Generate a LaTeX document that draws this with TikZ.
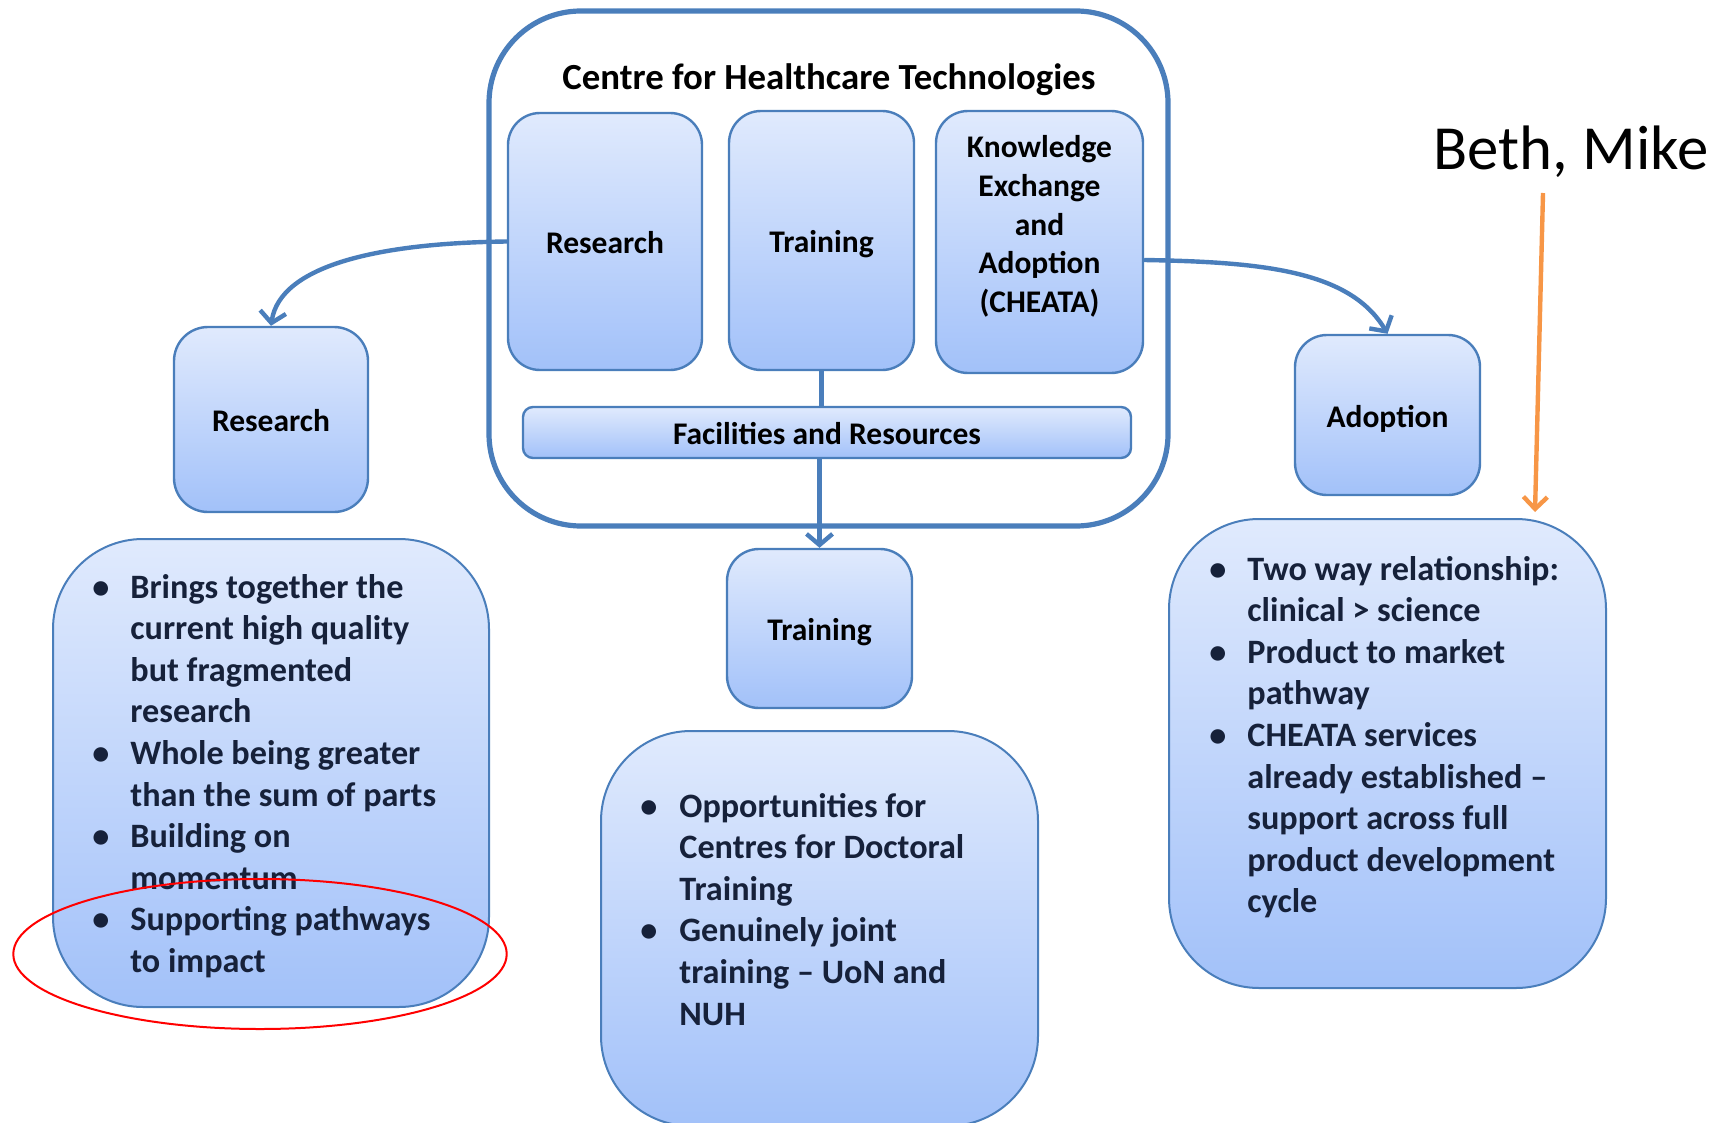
\documentclass[tikz,border=0pt]{standalone}
\usepackage{fontspec}
\setmainfont{Carlito}
\usetikzlibrary{arrows.meta,shapes.geometric,calc}
\definecolor{boxtop}{RGB}{224,234,253}
\definecolor{boxbot}{RGB}{162,193,249}
\definecolor{boxline}{RGB}{74,126,187}
\definecolor{navy}{RGB}{22,33,58}
\definecolor{orangeln}{RGB}{247,150,70}
\begin{document}
\begin{tikzpicture}[x=0.5pt,y=-0.5pt,
  bx/.style={draw=boxline, line width=1.2pt, top color=boxtop, bottom color=boxbot, inner sep=0pt,
    font=\fontsize{15.75}{19.3}\selectfont\bfseries, text height=12pt, text depth=0pt, align=center},
  listbox/.style={draw=boxline, line width=1pt, top color=boxtop, bottom color=boxbot, inner sep=0pt, rounded corners=45pt},
  listtext/.style={inner sep=0pt, anchor=base west, text=navy, font=\fontsize{17.1}{20.8}\selectfont\bfseries},
  conn/.style={draw=boxline, line width=2.2pt, -{Straight Barb[length=5.5pt,width=13pt]}},
  plainln/.style={draw=boxline, line width=2.2pt},
]
\useasboundingbox (0,0) rectangle (1717,1123);

% centre
\node[draw=boxline, line width=2.6pt, rounded corners=46pt, minimum width=339.5pt, minimum height=257.5pt, inner sep=0pt] (ctr) at (828.5,268.5) {};
\node[anchor=base, inner sep=0pt, font=\fontsize{18.4}{22}\selectfont\bfseries] (title) at (829,90) {Centre for Healthcare Technologies};
\node[bx, rounded corners=16pt, minimum width=97pt, minimum height=128.5pt] (r1) at (605,241.5) {Research};
\node[bx, rounded corners=16pt, minimum width=92.5pt, minimum height=129.5pt] (t1) at (821.5,240.5) {Training};
\node[bx, rounded corners=16pt, minimum width=103.5pt, minimum height=131pt, text height=0pt, text depth=84pt] (k1) at (1039.5,242)
  {\begin{tabular}[t]{@{}c@{}}Knowledge\\Exchange\\and\\Adoption\\(CHEATA)\end{tabular}};
\node[bx, rounded corners=5pt, minimum width=304pt, minimum height=25.5pt] (fac) at (827,432.5) {Facilities and Resources};

% outer boxes
\node[bx, rounded corners=17pt, minimum width=97pt, minimum height=92.5pt] (r2) at (271,419.5) {Research};
\node[bx, rounded corners=16pt, minimum width=92.5pt, minimum height=79.5pt] (t2) at (819.5,628.5) {Training};
\node[bx, rounded corners=16pt, minimum width=92.5pt, minimum height=80pt] (a2) at (1387.5,415) {Adoption};

% list boxes
\node[listbox, minimum width=218pt, minimum height=234pt] (rl) at (271,773) {};
\node[listbox, minimum width=218.5pt, minimum height=197.5pt] (tl) at (819.5,928.5) {};
\node[listbox, minimum width=218.5pt, minimum height=234.5pt] (al) at (1387.5,753.5) {};

\node[listtext] (rlt) at (92,598) {\begin{tabular}[t]{@{}p{19pt}@{}l@{}}
\textbullet & Brings together the\\
 & current high quality\\
 & but fragmented\\
 & research\\
\textbullet & Whole being greater\\
 & than the sum of parts\\
\textbullet & Building on\\
 & momentum\\
\textbullet & Supporting pathways\\
 & to impact
\end{tabular}};

\node[listtext] (tlt) at (640,817) {\begin{tabular}[t]{@{}p{19.5pt}@{}l@{}}
\textbullet & Opportunities for\\
 & Centres for Doctoral\\
 & Training\\
\textbullet & Genuinely joint\\
 & training – UoN and\\
 & NUH
\end{tabular}};

\node[listtext] (alt) at (1209,580) {\begin{tabular}[t]{@{}p{19pt}@{}l@{}}
\textbullet & Two way relationship:\\
 & clinical > science\\
\textbullet & Product to market\\
 & pathway\\
\textbullet & CHEATA services\\
 & already established –\\
 & support across full\\
 & product development\\
 & cycle
\end{tabular}};

% connectors
\draw[conn] (r1.west) .. controls (380,243) and (280,265) .. (r2.north);
\draw[conn] ($(k1.east)+(0,18)$) .. controls (1260,262) and (1350,270) .. (a2.north);
\draw[plainln] (t1.south) -- (t1.south |- fac.north);
\draw[conn] (fac.south -| t2.north) -- (t2.north);

% annotations
\node[draw=red, line width=1pt, ellipse, minimum width=246.7pt, minimum height=75pt, inner sep=0pt] (ring) at (260,954) {};
\node[anchor=base west, inner sep=0pt, font=\fontsize{31.4}{36}\selectfont] (beth) at (1433,170) {Beth, Mike};
\coordinate (otail) at (1543,193);
\coordinate (ohead) at (1535,512);
\draw[orangeln, line width=2.2pt, -{Straight Barb[length=6pt,width=12pt]}] (otail) -- (ohead);
\end{tikzpicture}
\end{document}
